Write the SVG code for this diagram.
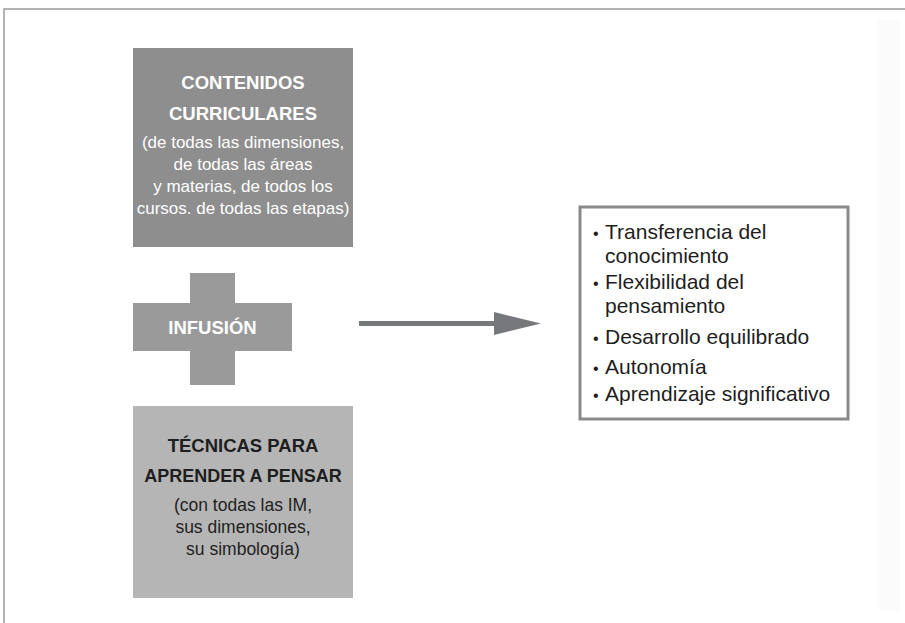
<svg xmlns="http://www.w3.org/2000/svg" width="905" height="623" viewBox="0 0 905 623">
<style>
text{font-family:"Liberation Sans",Arial,sans-serif}
.b{font-weight:bold}
.w{fill:#ffffff}
.k{fill:#1e1e1e}
.c{text-anchor:middle}
.li{font-size:21px;fill:#1e1e1e}
</style>
<rect width="905" height="623" fill="#ffffff"/>
<rect x="878" y="20" width="22" height="590" fill="#fbfbfb"/>
<path d="M4 623 V9 H905" fill="none" stroke="#9a9a9a" stroke-width="1.5"/>
<g id="contenidos">
<rect x="133" y="48" width="220" height="199" fill="#8e8e8e"/>
<text class="b w c" x="243" y="89" font-size="18.5">CONTENIDOS</text>
<text class="b w c" x="243" y="120" font-size="18.5">CURRICULARES</text>
<text class="w c" x="243" y="148" font-size="17">(de todas las dimensiones,</text>
<text class="w c" x="243" y="170" font-size="17">de todas las áreas</text>
<text class="w c" x="243" y="192" font-size="17">y materias, de todos los</text>
<text class="w c" x="243" y="214" font-size="17">cursos. de todas las etapas)</text>
</g>
<g id="infusion">
<rect x="190" y="273" width="45" height="112" fill="#9a9a9a"/>
<rect x="133" y="303" width="159" height="48" fill="#9a9a9a"/>
<text class="b w c" x="212.5" y="334" font-size="18.5">INFUSIÓN</text>
</g>
<g id="tecnicas">
<rect x="133" y="406" width="220" height="192" fill="#b5b5b5"/>
<text class="b k c" x="243" y="452" font-size="18.5">TÉCNICAS PARA</text>
<text class="b k c" x="243" y="482" font-size="18">APRENDER A PENSAR</text>
<text class="k c" x="243" y="511" font-size="17.5">(con todas las IM,</text>
<text class="k c" x="243" y="533" font-size="17.5">sus dimensiones,</text>
<text class="k c" x="243" y="555" font-size="17.5">su simbología)</text>
</g>
<g id="resultados">
<rect x="580" y="207" width="268" height="212" fill="#ffffff" stroke="#8a8a8a" stroke-width="3"/>
<text class="li"><tspan x="593" y="239" font-size="16">•</tspan><tspan x="605" y="239">Transferencia del</tspan></text>
<text class="li" x="605" y="263">conocimiento</text>
<text class="li"><tspan x="593" y="289" font-size="16">•</tspan><tspan x="605" y="289">Flexibilidad del</tspan></text>
<text class="li" x="605" y="313">pensamiento</text>
<text class="li"><tspan x="593" y="344" font-size="16">•</tspan><tspan x="605" y="344">Desarrollo equilibrado</tspan></text>
<text class="li"><tspan x="593" y="374" font-size="16">•</tspan><tspan x="605" y="374">Autonomía</tspan></text>
<text class="li"><tspan x="593" y="401" font-size="16">•</tspan><tspan x="605" y="401">Aprendizaje significativo</tspan></text>
</g>
<g id="connectors">
<rect x="359" y="321" width="136" height="5" fill="#77787c"/>
<polygon points="494,312 541,323.5 494,335" fill="#77787c"/>
</g>
</svg>
